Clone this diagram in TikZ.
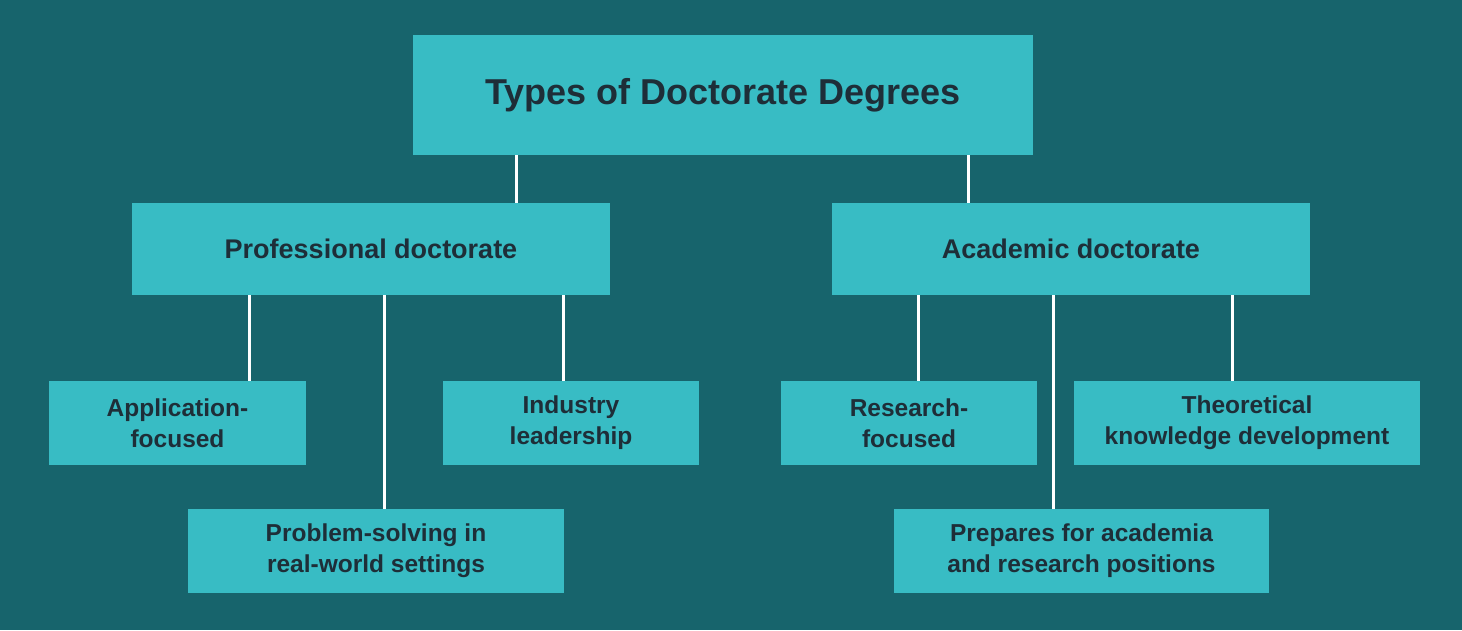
\documentclass[tikz,border=0pt]{standalone}
\usepackage{fontspec}
\setmainfont{Liberation Sans}
\definecolor{bgc}{RGB}{23,100,108}
\definecolor{boxc}{RGB}{56,188,196}
\definecolor{txtc}{RGB}{30,46,56}
\begin{document}
\begin{tikzpicture}[x=1pt,y=-1pt,
  box/.style={fill=boxc, draw=none, inner sep=0pt, text=txtc, align=center, font=\bfseries},
  lvl0/.style={box, font=\fontsize{36}{40}\selectfont\bfseries},
  lvl1/.style={box, font=\fontsize{27}{30}\selectfont\bfseries},
  lvl2/.style={box, font=\fontsize{24.5}{31}\selectfont\bfseries},
  link/.style={draw=white, line width=3pt}]
\fill[bgc] (0,0) rectangle (1462,630);
\useasboundingbox (0,0) rectangle (1462,630);
\node[lvl0, minimum width=620, minimum height=120] (root) at (723,95) {Types of Doctorate Degrees};
\node[lvl1, minimum width=478, minimum height=92] (prof) at (371,249) {Professional doctorate};
\node[lvl1, minimum width=478, minimum height=92] (acad) at (1071,249) {Academic doctorate};
\node[lvl2, minimum width=257, minimum height=84] (app) at (177.5,423) {Application-\\focused};
\node[lvl2, minimum width=256, minimum height=84] (ind) at (571,423) {Industry\\leadership};
\node[lvl2, minimum width=376, minimum height=84] (prob) at (376,551) {Problem-solving in\\real-world settings};
\node[lvl2, minimum width=256, minimum height=84] (res) at (909,423) {Research-\\focused};
\node[lvl2, minimum width=346, minimum height=84] (theo) at (1247,423) {Theoretical\\knowledge development};
\node[lvl2, minimum width=375, minimum height=84] (prep) at (1081.5,551) {Prepares for academia\\and research positions};
\draw[link] (516,0 |- root.south) -- (516,0 |- prof.north);
\draw[link] (968,0 |- root.south) -- (968,0 |- acad.north);
\draw[link] (249,0 |- prof.south) -- (249,0 |- app.north);
\draw[link] (384,0 |- prof.south) -- (384,0 |- prob.north);
\draw[link] (563,0 |- prof.south) -- (563,0 |- ind.north);
\draw[link] (918,0 |- acad.south) -- (918,0 |- res.north);
\draw[link] (1053,0 |- acad.south) -- (1053,0 |- prep.north);
\draw[link] (1232,0 |- acad.south) -- (1232,0 |- theo.north);
\end{tikzpicture}
\end{document}
